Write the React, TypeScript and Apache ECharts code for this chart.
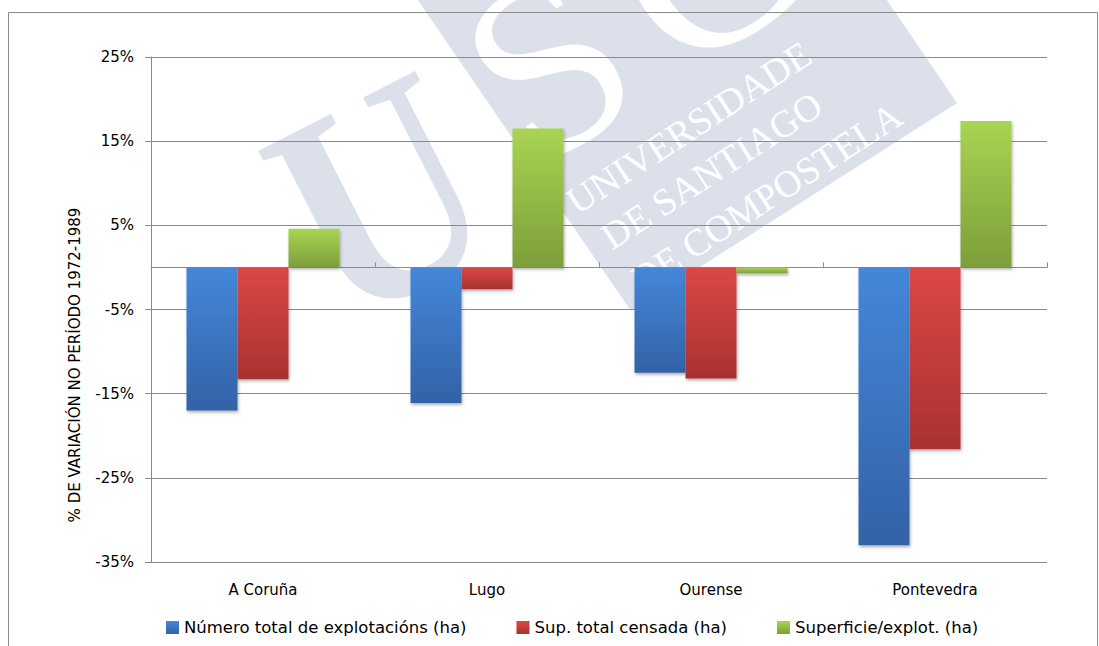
import { useEffect, useRef } from 'react';
import * as echarts from 'echarts';

const categories = ['A Coruña', 'Lugo', 'Ourense', 'Pontevedra'];
const seriesNames = ['Número total de explotacións (ha)', 'Sup. total censada (ha)', 'Superficie/explot. (ha)'];
const numeroExplotacions = [-17.0, -16.1, -12.5, -33.0];
const supTotalCensada = [-13.3, -2.6, -13.2, -21.6];
const superficiePorExplot = [4.6, 16.5, -0.7, 17.4];
const yMin = -35;
const yMax = 25;
const yStep = 10;
const yAxisTitle = '% DE VARIACIÓN NO PERÍODO 1972-1989';
const watermarkLetters = ['U', 'S', 'C'];
const watermarkLines = ['UNIVERSIDADE', 'DE SANTIAGO', 'DE COMPOSTELA'];

const FONT = '"DejaVu Sans", sans-serif';
const WM = '#DCE0EB';

function grad(top: string, bottom: string) {
  return new echarts.graphic.LinearGradient(0, 0, 0, 1, [
    { offset: 0, color: top },
    { offset: 1, color: bottom },
  ]);
}

export default function App() {
  const ref = useRef<HTMLDivElement>(null);
  useEffect(() => {
    if (!ref.current) return;
    const chart = echarts.init(ref.current, undefined, { renderer: 'svg' });
    const rot = (33 * Math.PI) / 180;
    const shadow = {
      shadowBlur: 3,
      shadowOffsetX: 1,
      shadowOffsetY: 2,
      shadowColor: 'rgba(0,0,0,0.3)',
    };
    const colors = [
      grad('#4487D9', '#3362A6'),
      grad('#DC4745', '#A8322F'),
      grad('#A9D452', '#7C9E3B'),
    ];
    const values = [numeroExplotacions, supTotalCensada, superficiePorExplot];
    chart.setOption({
      animation: false,
      backgroundColor: '#ffffff',
      grid: { left: 151, right: 52, top: 57, bottom: 84, containLabel: false },
      legend: {
        data: seriesNames,
        left: 161,
        top: 614,
        icon: 'rect',
        itemWidth: 13,
        itemHeight: 13,
        itemGap: 50,
        textStyle: { fontFamily: FONT, fontSize: 16.5, color: '#000' },
      },
      xAxis: [
        {
          type: 'category',
          data: categories,
          position: 'bottom',
          axisLine: { onZero: true, lineStyle: { color: '#8a8a8a', width: 1 } },
          axisTick: { show: true, inside: true, length: 5, alignWithLabel: false, lineStyle: { color: '#8a8a8a' } },
          axisLabel: { show: false },
          splitLine: { show: false },
        },
        {
          type: 'category',
          data: categories,
          position: 'bottom',
          axisLine: { show: false, onZero: false },
          axisTick: { show: false },
          axisLabel: { show: true, margin: 20, fontFamily: FONT, fontSize: 15, color: '#000' },
          splitLine: { show: false },
        },
      ],
      yAxis: {
        type: 'value',
        min: yMin,
        max: yMax,
        interval: yStep,
        axisLine: { show: true, lineStyle: { color: '#8a8a8a', width: 1 } },
        axisTick: { show: true, length: 6, lineStyle: { color: '#8a8a8a' } },
        axisLabel: {
          formatter: (v: number) => `${v}%`,
          fontFamily: FONT,
          fontSize: 15,
          color: '#000',
          margin: 17,
        },
        splitLine: { show: true, lineStyle: { color: '#8a8a8a', width: 1 } },
      },
      series: seriesNames.map((name, i) => ({
        name,
        type: 'bar',
        xAxisIndex: 0,
        data: values[i],
        barGap: '0%',
        barCategoryGap: '31.7%',
        itemStyle: { color: colors[i], ...shadow },
      })),
      graphic: [
        {
          type: 'polygon',
          z: -20,
          shape: { points: [[411, -10], [631, 311], [957, 103], [880, -10]] },
          style: { fill: WM },
          silent: true,
        },
        {
          type: 'text',
          x: 380,
          y: 196,
          rotation: (27 * Math.PI) / 180,
          scaleY: 1.15,
          z: -15,
          silent: true,
          style: {
            text: watermarkLetters[0],
            fill: WM,
            font: 'bold 262px "Liberation Serif", serif',
            align: 'center',
            verticalAlign: 'middle',
          },
        },
        {
          type: 'group',
          x: 386,
          y: 169,
          rotation: rot,
          z: -15,
          silent: true,
          children: [1, 2].map((i) => ({
            type: 'text',
            x: [0, 193, 377][i],
            y: 0,
            z: -15,
            style: {
              text: watermarkLetters[i],
              fill: '#ffffff',
              font: '250px "Liberation Serif", serif',
              align: 'center',
              verticalAlign: 'middle',
            },
          })),
        },
        {
          type: 'group',
          x: 577,
          y: 215,
          rotation: rot,
          z: -14,
          silent: true,
          children: watermarkLines.map((t, i) => ({
            type: 'text',
            x: [0, 10, 12][i],
            y: [-12.5, 36, 88][i],
            z: -14,
            style: {
              text: t,
              fill: '#ffffff',
              font: '38px "Liberation Serif", serif',
              align: 'left',
              verticalAlign: 'middle',
            },
          })),
        },
        {
          type: 'rect',
          z: 50,
          shape: { x: 8.5, y: 12.5, width: 1089, height: 650 },
          style: { fill: 'none', stroke: '#8c8c8c', lineWidth: 1 },
          silent: true,
        },
        {
          type: 'text',
          x: 75,
          y: 365,
          rotation: Math.PI / 2,
          z: 50,
          style: {
            text: yAxisTitle,
            fill: '#000',
            font: `15px ${FONT}`,
            align: 'center',
            verticalAlign: 'middle',
          },
        },
      ],
    });
    return () => chart.dispose();
  }, []);
  return (
    <div
      ref={ref}
      style={{ position: 'absolute', left: 0, top: 0, width: 1099, height: 646 }}
    />
  );
}
